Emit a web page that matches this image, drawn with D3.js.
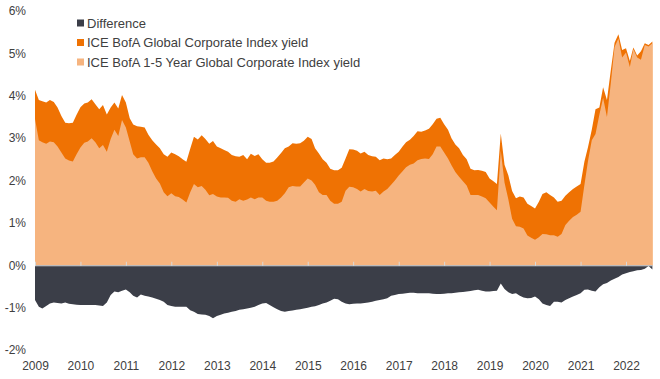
<!DOCTYPE html>
<meta charset="utf-8">
<head>
  <title>Global corporate yields</title>
</head>

<style>
body {
  margin: 0;
  background: #fff;
}
text {
  font-family: "Liberation Sans", Arial, sans-serif;
  fill: #404040;
  font-size: 12px;
}
.legend text {
  font-size: 13px;
}
.axis .domain {
  display: none;
}
</style>

<body>
  <svg width="660" height="379"></svg>

  <script src="https://cdnjs.cloudflare.com/ajax/libs/d3/7.8.5/d3.min.js"></script>
  <script>
// monthly, Jan 2009 - Aug 2022
var startMonth = new Date(2009, 0, 1)

var globalYield = [
  4.14,3.90,3.87,3.84,3.90,3.85,3.72,3.52,3.36,3.35,3.36,3.55,
  3.73,3.82,3.84,3.92,3.80,3.68,3.78,3.56,3.72,3.84,3.70,4.02,
  3.84,3.47,3.32,3.28,3.27,3.25,3.08,2.95,2.85,2.76,2.62,2.56,
  2.66,2.62,2.57,2.50,2.44,2.75,3.03,2.97,3.07,2.98,2.87,2.93,
  2.80,2.76,2.72,2.68,2.60,2.57,2.56,2.60,2.50,2.63,2.58,2.62,
  2.50,2.42,2.42,2.45,2.54,2.65,2.76,2.80,2.88,2.87,2.88,2.94,
  3.03,2.98,2.76,2.64,2.50,2.42,2.28,2.24,2.24,2.30,2.52,2.74,
  2.73,2.70,2.64,2.68,2.60,2.57,2.56,2.48,2.52,2.50,2.52,2.60,
  2.68,2.80,2.90,2.96,3.05,3.16,3.15,3.18,3.22,3.33,3.46,3.48,
  3.33,3.20,3.00,2.85,2.76,2.60,2.50,2.28,2.24,2.25,2.23,2.20,
  2.05,1.98,1.92,3.11,2.37,2.12,1.75,1.58,1.62,1.60,1.45,1.40,
  1.34,1.50,1.68,1.72,1.66,1.60,1.50,1.52,1.64,1.72,1.80,1.86,
  1.92,2.45,2.78,3.20,3.68,3.72,4.20,3.90,4.60,5.25,5.45,5.08,
  5.12,4.82,5.14,4.95,5.05,5.24,5.20,5.28
]

var shortYield = [
  3.45,2.95,2.90,2.87,2.92,2.90,2.80,2.66,2.52,2.47,2.45,2.62,
  2.78,2.89,2.92,3.00,2.90,2.76,2.84,2.68,2.98,3.20,3.05,3.43,
  3.25,2.92,2.62,2.52,2.55,2.55,2.42,2.22,2.05,1.93,1.72,1.63,
  1.70,1.63,1.61,1.55,1.48,1.72,1.92,1.84,1.87,1.78,1.65,1.68,
  1.62,1.60,1.60,1.59,1.52,1.50,1.56,1.52,1.55,1.60,1.56,1.60,
  1.60,1.52,1.50,1.50,1.52,1.60,1.70,1.84,1.87,1.86,1.86,1.95,
  2.05,2.00,1.90,1.72,1.66,1.66,1.52,1.45,1.45,1.50,1.76,1.85,
  1.84,1.80,1.74,1.80,1.75,1.74,1.76,1.66,1.74,1.80,1.90,2.00,
  2.12,2.22,2.31,2.37,2.40,2.48,2.51,2.52,2.51,2.62,2.80,2.80,
  2.66,2.52,2.36,2.20,2.09,1.98,1.88,1.66,1.66,1.66,1.62,1.58,
  1.48,1.38,1.30,2.70,1.95,1.55,1.10,0.92,0.91,0.87,0.70,0.65,
  0.60,0.66,0.74,0.73,0.71,0.71,0.67,0.74,0.95,1.05,1.14,1.19,
  1.26,1.90,2.45,2.95,3.10,3.55,3.95,3.50,4.30,5.15,5.35,4.90,
  5.02,4.68,5.10,4.90,4.85,5.20,5.16,5.24
]

var difference = [
  -0.82,-0.98,-1.02,-0.96,-0.90,-0.88,-0.89,-0.90,-0.88,-0.91,-0.92,-0.93,
  -0.94,-0.94,-0.94,-0.94,-0.94,-0.95,-0.96,-0.88,-0.70,-0.62,-0.64,-0.60,
  -0.57,-0.64,-0.72,-0.76,-0.69,-0.72,-0.74,-0.76,-0.79,-0.82,-0.86,-0.94,
  -0.96,-0.98,-0.98,-0.98,-0.98,-1.06,-1.10,-1.15,-1.16,-1.17,-1.20,-1.25,
  -1.20,-1.17,-1.14,-1.12,-1.10,-1.08,-1.05,-1.04,-1.02,-1.00,-0.98,-0.94,
  -0.90,-0.89,-0.94,-0.99,-1.04,-1.08,-1.10,-1.08,-1.07,-1.05,-1.04,-1.02,
  -1.00,-0.98,-0.97,-0.94,-0.90,-0.88,-0.84,-0.79,-0.80,-0.86,-0.90,-0.92,
  -0.91,-0.90,-0.90,-0.89,-0.88,-0.86,-0.84,-0.82,-0.80,-0.78,-0.72,-0.70,
  -0.68,-0.67,-0.66,-0.65,-0.65,-0.66,-0.66,-0.66,-0.66,-0.67,-0.68,-0.68,
  -0.67,-0.66,-0.66,-0.65,-0.64,-0.63,-0.62,-0.61,-0.59,-0.58,-0.60,-0.62,
  -0.62,-0.61,-0.60,-0.43,-0.56,-0.64,-0.68,-0.66,-0.72,-0.76,-0.78,-0.77,
  -0.74,-0.80,-0.90,-0.94,-0.96,-0.86,-0.86,-0.88,-0.82,-0.78,-0.74,-0.70,
  -0.66,-0.58,-0.57,-0.60,-0.62,-0.52,-0.45,-0.42,-0.36,-0.32,-0.28,-0.22,
  -0.19,-0.16,-0.14,-0.12,-0.11,-0.08,-0.02,-0.10
]

var yTicks = [-2, -1, 0, 1, 2, 3, 4, 5, 6]
var xTickYears = [2009,2010,2011,2012,2013,2014,2015,2016,2017,2018,2019,2020,2021,2022]

var legendLabels = [
  'Difference',
  'ICE BofA Global Corporate Index yield',
  'ICE BofA 1-5 Year Global Corporate Index yield'
]
var colors = ['#3b3e48', '#ef7203', '#f6b47f']

var svg = d3.select('svg')

var data = globalYield.map(function(v, i) {
  return {
    date: d3.timeMonth.offset(startMonth, i),
    g: v,
    s: shortYield[i],
    d: difference[i]
  }
})

var x = d3.scaleTime()
  .domain([new Date(2009, 0, 1), new Date(2022, 0, 1)])
  .range([35, 626])

var y = d3.scaleLinear()
  .domain([-2, 6])
  .range([350, 11])

function area(key) {
  return d3.area()
    .x(function(d) { return x(d.date) })
    .y0(y(0))
    .y1(function(d) { return y(d[key]) })
}

svg.append('path').datum(data).attr('fill', colors[1]).attr('d', area('g'))
svg.append('path').datum(data).attr('fill', colors[2]).attr('d', area('s'))
svg.append('path').datum(data).attr('fill', colors[0]).attr('d', area('d'))

// zero line with small ticks pointing up
var plotEnd = x(data[data.length - 1].date)
svg.append('line')
  .attr('x1', 35).attr('x2', plotEnd)
  .attr('y1', y(0) + 0.5).attr('y2', y(0) + 0.5)
  .attr('stroke', '#d9d9d9')

var zeroAxis = svg.append('g')
  .attr('class', 'axis')
  .attr('transform', 'translate(0,' + (y(0) + 0.5) + ')')
  .call(d3.axisTop(x)
    .tickValues(xTickYears.map(function(yr) { return new Date(yr, 0, 1) }))
    .tickSize(4)
    .tickFormat(''))
zeroAxis.selectAll('line').attr('stroke', '#d9d9d9')

// year labels
var xAxis = svg.append('g')
  .attr('class', 'axis')
  .attr('transform', 'translate(0,358)')
  .call(d3.axisBottom(x)
    .tickValues(xTickYears.map(function(yr) { return new Date(yr, 0, 1) }))
    .tickSize(0)
    .tickFormat(d3.timeFormat('%Y')))
xAxis.selectAll('text').attr('font-size', 12).attr('fill', '#404040').attr('font-family', null)

var yAxis = svg.append('g')
  .attr('class', 'axis')
  .attr('transform', 'translate(26,0)')
  .call(d3.axisLeft(y)
    .tickValues(yTicks)
    .tickSize(0)
    .tickPadding(0)
    .tickFormat(function(d) { return d + '%' }))
yAxis.selectAll('text').attr('font-size', 12).attr('fill', '#404040').attr('font-family', null)

// legend
var legend = svg.append('g')
  .attr('class', 'legend')
  .selectAll('g')
  .data(legendLabels)
  .enter()
  .append('g')
  .attr('transform', function(d, i) { return 'translate(77,' + (23 + i * 19.5) + ')' })

legend.append('rect')
  .attr('x', 0).attr('y', -3.5)
  .attr('width', 7).attr('height', 7)
  .attr('fill', function(d, i) { return colors[i] })

legend.append('text')
  .attr('x', 10)
  .attr('dy', '0.35em')
  .text(function(d) { return d })
  </script>
</body>
</html>
